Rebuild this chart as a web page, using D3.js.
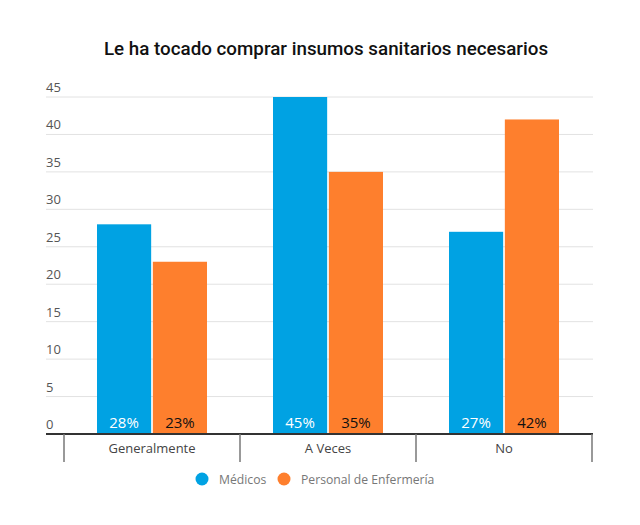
<!DOCTYPE html>
<html>
<head>
<meta charset="utf-8">
<script src="https://cdn.jsdelivr.net/npm/d3@7"></script>
<style>
	body { margin: 0; background: #fff; }
	svg { display: block; }
</style>
</head>
<body>
<script>
// chart data
var categories = ["Generalmente", "A Veces", "No"]
var series_names = ["Médicos", "Personal de Enfermería"]
var medicos = [28, 45, 27]
var enfermeria = [23, 35, 42]
var y_ticks = [0, 5, 10, 15, 20, 25, 30, 35, 40, 45]

var width = 640, height = 525
var colors = ["#00a2e3", "#fe7f2d"]
var label_colors = ["#ffffff", "#111111"]

var svg = d3.select("body").append("svg")
	.attr("width", width)
	.attr("height", height)

svg.append("text")
	.attr("x", 326)
	.attr("y", 55)
	.attr("text-anchor", "middle")
	.style("font-family", "Roboto")
	.style("font-weight", 500)
	.style("font-size", "18.8px")
	.style("fill", "#111")
	.text("Le ha tocado comprar insumos sanitarios necesarios")

var y = d3.scaleLinear().domain([0, 45]).range([434, 97])
var x0 = d3.scaleBand().domain(categories).range([64, 592])
var x1 = d3.scaleBand().domain(series_names).range([33, 143]).paddingInner(0.03)

// grid + y labels
var grid = svg.append("g")
grid.selectAll("line")
	.data(y_ticks.filter(function(d){ return d > 0 }))
.enter().append("line")
	.attr("x1", 46).attr("x2", 593)
	.attr("y1", function(d){ return y(d) }).attr("y2", function(d){ return y(d) })
	.attr("stroke", "#e2e2e2")
	.attr("stroke-width", 1)

grid.selectAll("text")
	.data(y_ticks)
.enter().append("text")
	.attr("x", 46)
	.attr("y", function(d){ return y(d) - 5 })
	.style("font-family", "Open Sans")
	.style("font-size", "13px")
	.style("fill", "#555")
	.text(function(d){ return d })

// bars
var rows = categories.map(function(c, i){
	return {cat: c, vals: [medicos[i], enfermeria[i]]}
})

var groups = svg.selectAll(".grp")
	.data(rows)
.enter().append("g")
	.classed("grp", true)
	.attr("transform", function(d){ return "translate(" + x0(d.cat) + ",0)" })

groups.selectAll("rect")
	.data(function(d){ return d.vals })
.enter().append("rect")
	.attr("x", function(d, i){ return x1(series_names[i]) })
	.attr("y", function(d){ return y(d) })
	.attr("width", x1.bandwidth())
	.attr("height", function(d){ return y(0) - y(d) })
	.attr("fill", function(d, i){ return colors[i] })

groups.selectAll(".pct")
	.data(function(d){ return d.vals })
.enter().append("text")
	.classed("pct", true)
	.attr("x", function(d, i){ return x1(series_names[i]) + x1.bandwidth()/2 })
	.attr("y", 428)
	.attr("text-anchor", "middle")
	.style("font-family", "Open Sans")
	.style("font-size", "15px")
	.style("fill", function(d, i){ return label_colors[i] })
	.text(function(d){ return d + "%" })

// x axis
svg.append("line")
	.attr("x1", 46).attr("x2", 593)
	.attr("y1", y(0)).attr("y2", y(0))
	.attr("stroke", "#333")
	.attr("stroke-width", 2)

var bounds = categories.map(function(c){ return x0(c) }).concat([x0.range()[1]])
svg.selectAll(".div")
	.data(bounds)
.enter().append("line")
	.classed("div", true)
	.attr("x1", function(d){ return d }).attr("x2", function(d){ return d })
	.attr("y1", y(0)).attr("y2", 462)
	.attr("stroke", "#777")
	.attr("stroke-width", 1.5)

svg.selectAll(".cat")
	.data(categories)
.enter().append("text")
	.classed("cat", true)
	.attr("x", function(d){ return x0(d) + x0.bandwidth()/2 })
	.attr("y", 453)
	.attr("text-anchor", "middle")
	.style("font-family", "Open Sans")
	.style("font-size", "13px")
	.style("fill", "#444")
	.text(function(d){ return d })

// legend
var legend_x = [202, 284]
var legend = svg.selectAll(".leg")
	.data(series_names)
.enter().append("g")
	.classed("leg", true)
	.attr("transform", function(d, i){ return "translate(" + legend_x[i] + ",479)" })
legend.append("circle")
	.attr("r", 6.5)
	.attr("fill", function(d, i){ return colors[i] })
legend.append("text")
	.attr("x", 17)
	.attr("y", 4.5)
	.style("font-family", "Open Sans")
	.style("font-size", "12.2px")
	.style("fill", "#777")
	.text(function(d){ return d })
</script>
</body>
</html>
